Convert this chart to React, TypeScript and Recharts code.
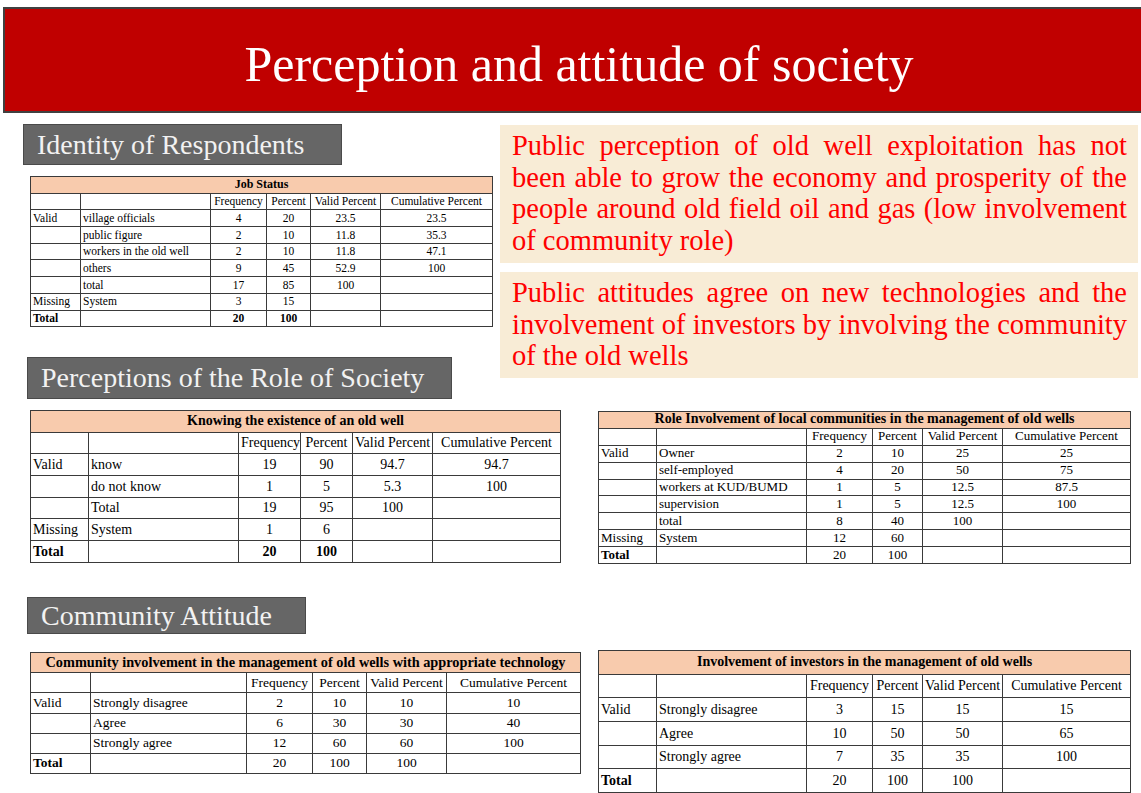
import React from 'react';
import { Surface, Rectangle, Text } from 'recharts';

// slide texts
const slideTitle = 'Perception and attitude of society';
const sectionTitles = ['Identity of Respondents', 'Perceptions of the Role of Society', 'Community Attitude'];
const notes = [
  'Public perception of old well exploitation has not been able to grow the economy and prosperity of the people around old field oil and gas (low involvement of community role)',
  'Public attitudes agree on new technologies and the involvement of investors by involving the community of the old wells',
];
const colHeads = ['Frequency', 'Percent', 'Valid Percent', 'Cumulative Percent'];

type Row = [string, string, string, string, string, string];

const jobStatusRows: Row[] = [
  ['Valid', 'village officials', '4', '20', '23.5', '23.5'],
  ['', 'public figure', '2', '10', '11.8', '35.3'],
  ['', 'workers in the old well', '2', '10', '11.8', '47.1'],
  ['', 'others', '9', '45', '52.9', '100'],
  ['', 'total', '17', '85', '100', ''],
  ['Missing', 'System', '3', '15', '', ''],
  ['Total', '', '20', '100', '', ''],
];
const knowingRows: Row[] = [
  ['Valid', 'know', '19', '90', '94.7', '94.7'],
  ['', 'do not know', '1', '5', '5.3', '100'],
  ['', 'Total', '19', '95', '100', ''],
  ['Missing', 'System', '1', '6', '', ''],
  ['Total', '', '20', '100', '', ''],
];
const roleRows: Row[] = [
  ['Valid', 'Owner', '2', '10', '25', '25'],
  ['', 'self-employed', '4', '20', '50', '75'],
  ['', 'workers at KUD/BUMD', '1', '5', '12.5', '87.5'],
  ['', 'supervision', '1', '5', '12.5', '100'],
  ['', 'total', '8', '40', '100', ''],
  ['Missing', 'System', '12', '60', '', ''],
  ['Total', '', '20', '100', '', ''],
];
const technologyRows: Row[] = [
  ['Valid', 'Strongly disagree', '2', '10', '10', '10'],
  ['', 'Agree', '6', '30', '30', '40'],
  ['', 'Strongly agree', '12', '60', '60', '100'],
  ['Total', '', '20', '100', '100', ''],
];
const investorRows: Row[] = [
  ['Valid', 'Strongly disagree', '3', '15', '15', '15'],
  ['', 'Agree', '10', '50', '50', '65'],
  ['', 'Strongly agree', '7', '35', '35', '100'],
  ['Total', '', '20', '100', '100', ''],
];

const serif = '"Liberation Serif", "Times New Roman", serif';

type TableProps = {
  title: string; rows: Row[]; x: number; y: number; cols: number[];
  rowH: number; fontSize: number; titleSize: number; boldTotal: boolean;
};

const FreqTable = ({ title, rows, x, y, cols, rowH, fontSize, titleSize, boldTotal }: TableProps) => {
  const cell: React.CSSProperties = {
    border: '1px solid #3a3a3a', padding: '0 2px', height: rowH - 1, lineHeight: `${rowH - 2}px`,
    whiteSpace: 'nowrap', overflow: 'hidden',
  };
  return (
    <table style={{ position: 'absolute', left: x, top: y, borderCollapse: 'collapse', tableLayout: 'fixed',
      fontFamily: serif, fontSize, color: '#000', width: cols.reduce((a, b) => a + b, 0) }}>
      <colgroup>{cols.map((w, i) => <col key={i} style={{ width: w }} />)}</colgroup>
      <tbody>
        <tr>
          <td colSpan={6} style={{ ...cell, background: '#F8CBAD', fontWeight: 'bold', textAlign: 'center',
            fontSize: titleSize }}>{title}</td>
        </tr>
        <tr>
          <td style={cell} /><td style={cell} />
          {colHeads.map((h) => <td key={h} style={{ ...cell, textAlign: 'center' }}>{h}</td>)}
        </tr>
        {rows.map((r, i) => {
          const isTotal = r[0] === 'Total';
          return (
            <tr key={i}>
              {r.map((v, j) => (
                <td key={j} style={{ ...cell, textAlign: j < 2 ? 'left' : 'center',
                  fontWeight: isTotal && (j === 0 || boldTotal) ? 'bold' : 'normal' }}>{v}</td>
              ))}
            </tr>
          );
        })}
      </tbody>
    </table>
  );
};

const SectionLabel = ({ text, x, y, w, h }: { text: string, x: number, y: number, w: number, h: number }) => (
  <div style={{ position: 'absolute', left: x, top: y, width: w, height: h, boxSizing: 'border-box',
    background: '#666666', border: '1px solid #4a4a4a', color: '#F2F2F2', fontFamily: serif,
    fontSize: 28, lineHeight: `${h - 2}px`, paddingLeft: 13, whiteSpace: 'nowrap' }}>{text}</div>
);

const NoteBox = ({ text, x, y, w, h }: { text: string, x: number, y: number, w: number, h: number }) => (
  <div style={{ position: 'absolute', left: x, top: y, width: w, height: h, boxSizing: 'border-box',
    background: '#F8ECD6', color: '#FF0000', fontFamily: serif, fontSize: 28.5, lineHeight: '31.5px',
    padding: '5px 11px 0 12px', textAlign: 'justify' }}>{text}</div>
);

export default function App() {
  return (
    <div style={{ position: 'fixed', left: 0, top: 0, width: 1141, height: 793, background: '#fff', overflow: 'hidden' }}>
      <Surface width={1141} height={115} viewBox={{ x: 0, y: 0, width: 1141, height: 115 }}
        style={{ position: 'absolute', left: 0, top: 0 }}>
        <Rectangle x={4} y={8} width={1150} height={104} fill="#C00000" stroke="#404040" strokeWidth={2} />
        <Text x={579} y={63} textAnchor="middle" verticalAnchor="middle" fill="#ffffff"
          style={{ fontFamily: serif, fontSize: 50 }}>{slideTitle}</Text>
      </Surface>

      <SectionLabel text={sectionTitles[0]} x={23} y={124} w={319} h={41} />
      <SectionLabel text={sectionTitles[1]} x={27} y={357} w={425} h={42} />
      <SectionLabel text={sectionTitles[2]} x={27} y={597} w={279} h={37} />

      <NoteBox text={notes[0]} x={500} y={125} w={638} h={138} />
      <NoteBox text={notes[1]} x={500} y={272} w={638} h={106} />

      <FreqTable title="Job Status" rows={jobStatusRows} x={30} y={176} cols={[50, 130, 56, 44, 70, 112]}
        rowH={16.7} fontSize={11.5} titleSize={12} boldTotal />
      <FreqTable title="Knowing the existence of an old well" rows={knowingRows} x={30} y={410}
        cols={[58, 150, 62, 52, 80, 128]} rowH={21.7} fontSize={14} titleSize={14} boldTotal />
      <FreqTable title="Role Involvement of local communities in the management of old wells" rows={roleRows}
        x={598} y={411} cols={[58, 150, 66, 50, 80, 128]} rowH={16.9} fontSize={13} titleSize={14}
        boldTotal={false} />
      <FreqTable title="Community involvement in the management of old wells with appropriate technology"
        rows={technologyRows} x={30} y={652} cols={[60, 156, 66, 54, 80, 134]} rowH={20.2} fontSize={13.5}
        titleSize={14.3} boldTotal={false} />
      <FreqTable title="Involvement of investors in the management of old wells" rows={investorRows}
        x={598} y={650} cols={[58, 150, 66, 50, 80, 128]} rowH={23.7} fontSize={14} titleSize={14}
        boldTotal={false} />
    </div>
  );
}
